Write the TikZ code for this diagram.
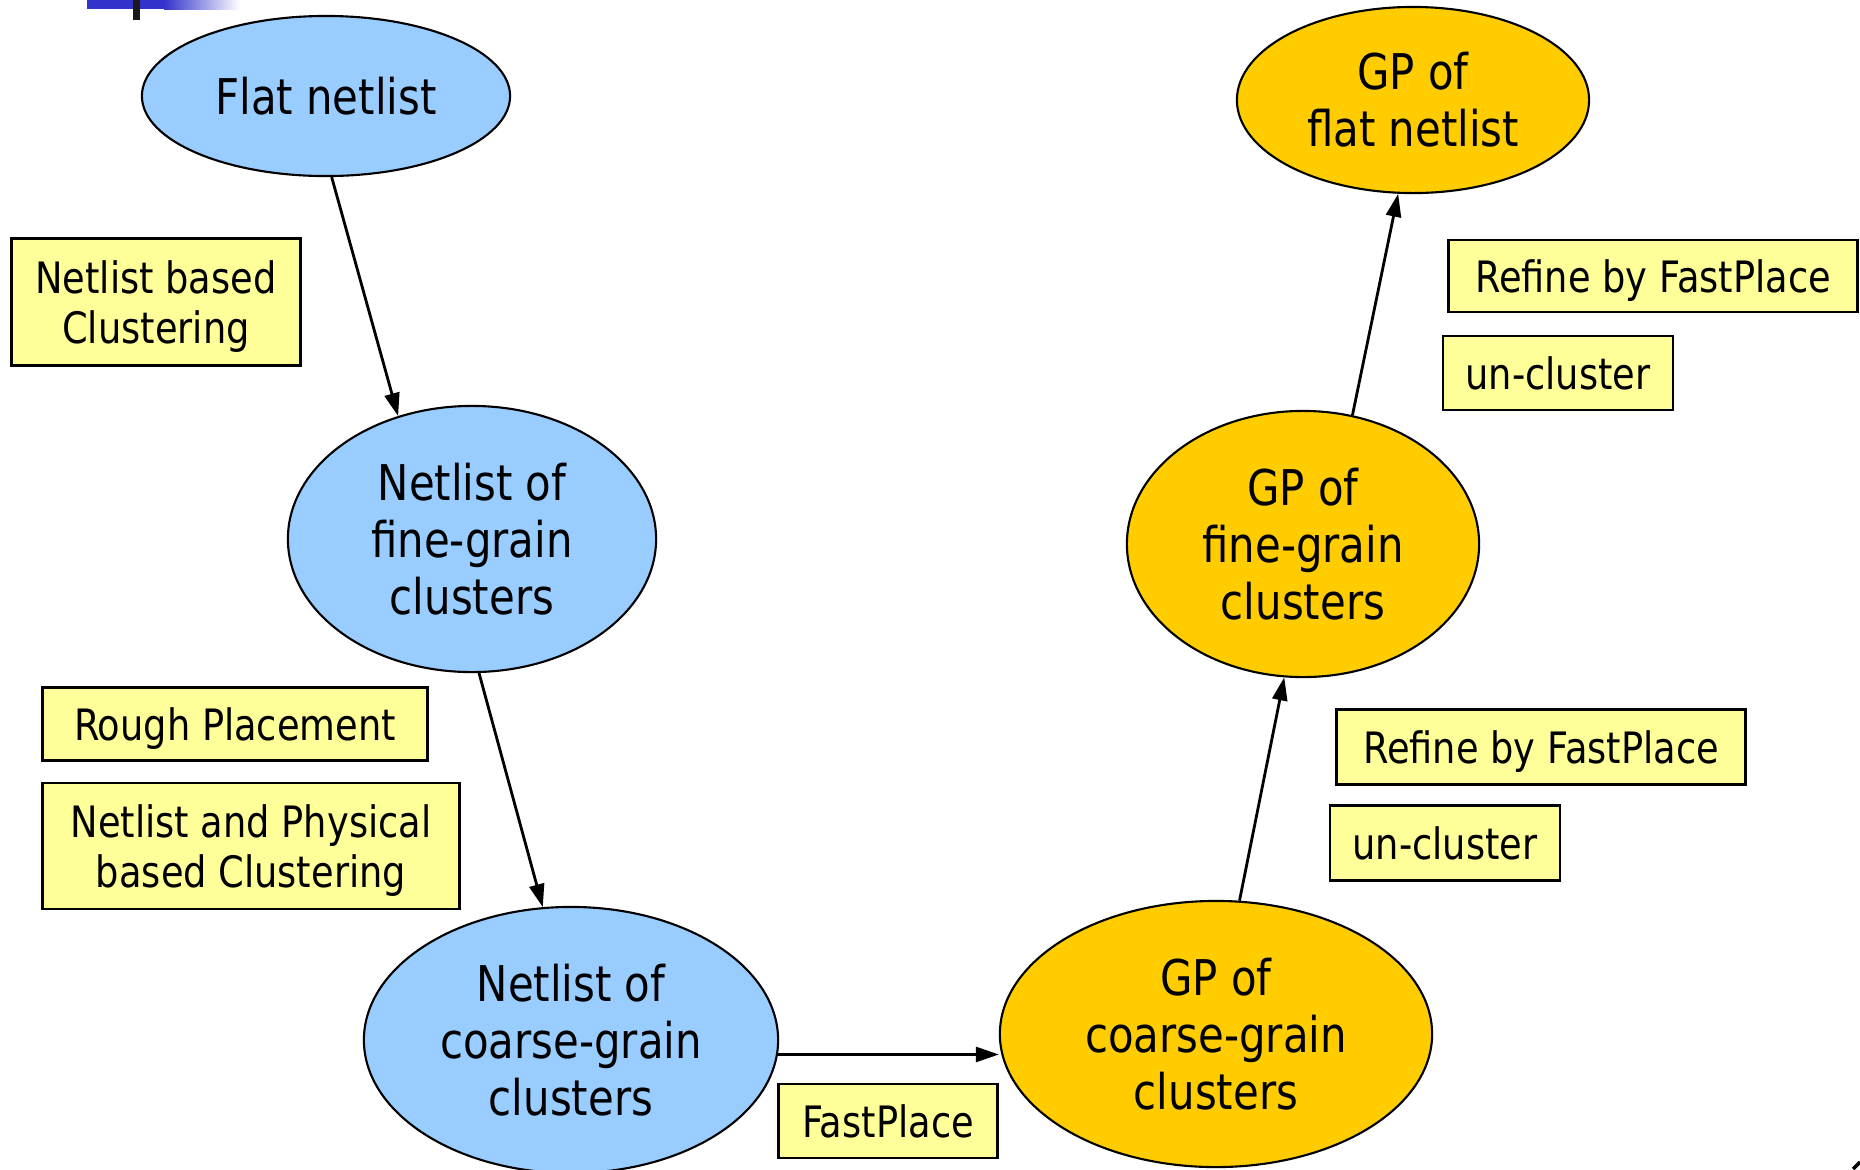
\documentclass[tikz,border=0pt]{standalone}
\usepackage{fontspec}
\setmainfont{DejaVu Sans}[FakeStretch=0.85]
\usetikzlibrary{arrows.meta,shapes.geometric}
\definecolor{netfill}{HTML}{99CCFF}
\definecolor{gpfill}{HTML}{FFCC00}
\definecolor{tagfill}{HTML}{FFFF99}
\definecolor{barblue}{HTML}{3333CC}

\begin{document}
\begin{tikzpicture}[
    x=0.01cm, y=-0.01cm,
    >={Triangle[length=2.3mm,width=1.5mm]},
    base/.style={ellipse, draw=black, line width=0.6pt, inner sep=0pt,
                 align=center, font=\fontsize{14}{16.2}\selectfont},
    net/.style={base, fill=netfill},
    gp/.style={base, fill=gpfill},
    tag/.style={rectangle, draw=black, fill=tagfill, line width=0.8pt,
                inner sep=0pt, text depth=0pt, align=center,
                font=\fontsize{12.3}{14.2}\selectfont},
    flow/.style={->, line width=0.8pt},
]
\useasboundingbox (0,0) rectangle (1860,1169);

% ---------------- slide decoration ----------------
\fill[barblue] (87,0) rectangle (164,9);
\shade[left color=barblue, right color=white] (164,0) rectangle (240,9);
\fill[black!90] (133,0) rectangle (140,20);
\draw[line width=1pt] (1853,1169) -- (1860,1162);

% ---------------- clustering side ----------------
\node[net, minimum width=3.68cm, minimum height=1.60cm] (flat) at (326,96) {Flat netlist};
\node[net, minimum width=3.68cm, minimum height=2.66cm] (fine) at (472,539)
  {Netlist of\\fine-grain\\clusters};
\node[net, minimum width=4.14cm, minimum height=2.66cm] (coarse) at (571,1040)
  {Netlist of\\coarse-grain\\clusters};

% ---------------- placement side ----------------
\node[gp, minimum width=4.32cm, minimum height=2.66cm] (gpc) at (1216,1034)
  {GP of\\coarse-grain\\clusters};
\node[gp, minimum width=3.52cm, minimum height=2.66cm] (gpf) at (1303,544)
  {GP of\\fine-grain\\clusters};
\node[gp, minimum width=3.52cm, minimum height=1.86cm] (gpflat) at (1413,100)
  {GP of\\flat netlist};

% ---------------- step labels ----------------
\node[tag, minimum width=2.89cm, minimum height=1.27cm] (nbc) at (156,302)
  {Netlist based\\Clustering};
\node[tag, minimum width=3.85cm, minimum height=0.73cm] (rough) at (235,724)
  {Rough Placement};
\node[tag, minimum width=4.17cm, minimum height=1.26cm] (nphys) at (251,846)
  {Netlist and Physical\\based Clustering};
\node[tag, minimum width=2.19cm, minimum height=0.74cm] (fp) at (888,1121) {FastPlace};
\node[tag, minimum width=4.08cm, minimum height=0.75cm] (ref1) at (1541,747)
  {Refine by FastPlace};
\node[tag, minimum width=2.30cm, minimum height=0.75cm] (unc1) at (1445,843) {un-cluster};
\node[tag, minimum width=4.08cm, minimum height=0.72cm] (ref2) at (1653,276)
  {Refine by FastPlace};
\node[tag, minimum width=2.30cm, minimum height=0.74cm] (unc2) at (1558,373) {un-cluster};

% ---------------- flow ----------------
\draw[flow] (flat.274) -- (fine.121);
\draw[flow] (fine.273) -- (coarse.102);
\draw[flow] (coarse.356) -- (coarse.356 -| gpc.west);
\draw[flow] (gpc.80) -- (gpf.262);
\draw[flow] (gpf.69) -- (gpflat.261);

\end{tikzpicture}
\end{document}
